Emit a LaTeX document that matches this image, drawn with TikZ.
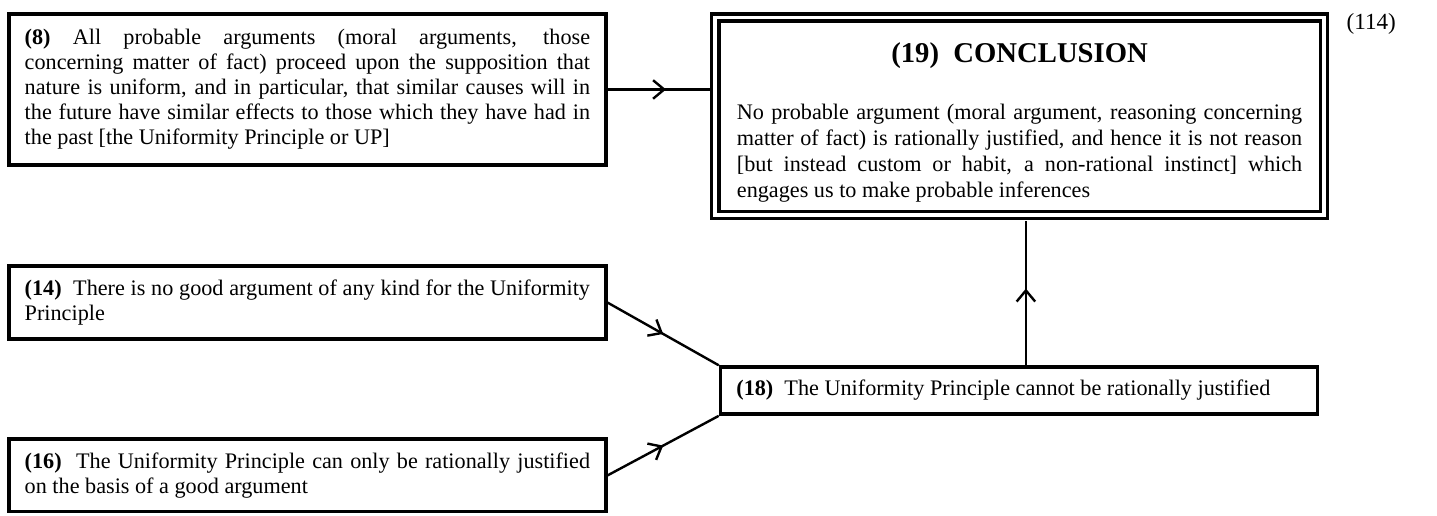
\documentclass[tikz,border=0pt]{standalone}
\usepackage{amsmath, amssymb}
\usepackage{fontspec}
\setmainfont{Liberation Serif}
\usepackage{tikz}
\usetikzlibrary{positioning,arrows.meta,decorations.markings}
\hyphenpenalty=10000
\exhyphenpenalty=10000

\begin{document}
\begin{tikzpicture}[
            % plain/.style={rectangle, draw, thin},
            premise/.style={rectangle, draw, line width=2pt, text width=10.74cm, inner xsep=0.3cm, inner ysep=0pt, align=justify},
            conclusion/.style={premise, double, line width=1.8pt, double distance=2pt, inner xsep=0.41cm, outer sep=0.1cm, font={\fontsize{12}{14}\selectfont}},
            support/.style={line width=1.3pt, postaction={decorate}, decoration={markings, mark=at position #1 with {\arrow{Straight Barb[length=6pt,width=10pt]}}}},
            support/.default=0.5,
            auto
        ]
            \useasboundingbox (0,0) rectangle (27.30,-9.785);
            \begin{scope}[
                every node/.style={font={\fontsize{12}{13.5}\selectfont}}
            ]
                % Claims
                \node[premise, minimum height=2.87cm] (p8) at (5.84,-1.70) {\textbf{(8)} All probable arguments (moral arguments, those\linebreak{} concerning matter of fact) proceed upon the supposition that\linebreak{} nature is uniform, and in particular, that similar causes will in\linebreak{} the future have similar effects to those which they have had in\linebreak{} the past [the Uniformity Principle or UP]};
                \node[premise, minimum height=1.39cm] (p14) at (5.84,-5.75) {\textbf{(14)}\ \ There is no good argument of any kind for the Uniformity\linebreak{} Principle};
                \node[premise, minimum height=1.37cm] (p16) at (5.84,-9.03) {\textbf{(16)}\ \ The Uniformity Principle can only be rationally justified\linebreak{} on the basis of a good argument};
                \node[premise, minimum height=0.89cm] (p18) at (19.36,-7.42) {\textbf{(18)}\ \ The Uniformity Principle cannot be rationally justified};
                \node[conclusion, minimum height=3.76cm] (p19) at (19.37,-2.21) {{\centering\fontsize{15.5}{18}\selectfont\bfseries\rule{0pt}{17.2pt}(19)\ \ CONCLUSION\par}\vspace{17.2pt}No probable argument (moral argument, reasoning concerning\linebreak{} matter of fact) is rationally justified, and hence it is not reason\linebreak{} [but instead custom or habit, a non-rational instinct] which\linebreak{} engages us to make probable inferences};
                \node[font={\fontsize{12.5}{15}\selectfont}] (eq) at (26.05,-0.46) {(114)};
                % Inferences
                \draw[support=0.57] (p8.east) -- (p8.east -| p19.west); % 8 -> 19
                \draw[support] (p14.east) -- (p18.north west); % 14 -> 18
                \draw[support] (p16.east) -- (p18.south west); % 16 -> 18
                \draw[support=0.53] ([xshift=0.13cm]p18.north) -- ([xshift=0.13cm]p18.north |- p19.south); % 18 -> 19
            \end{scope}
        \end{tikzpicture}
\end{document}
